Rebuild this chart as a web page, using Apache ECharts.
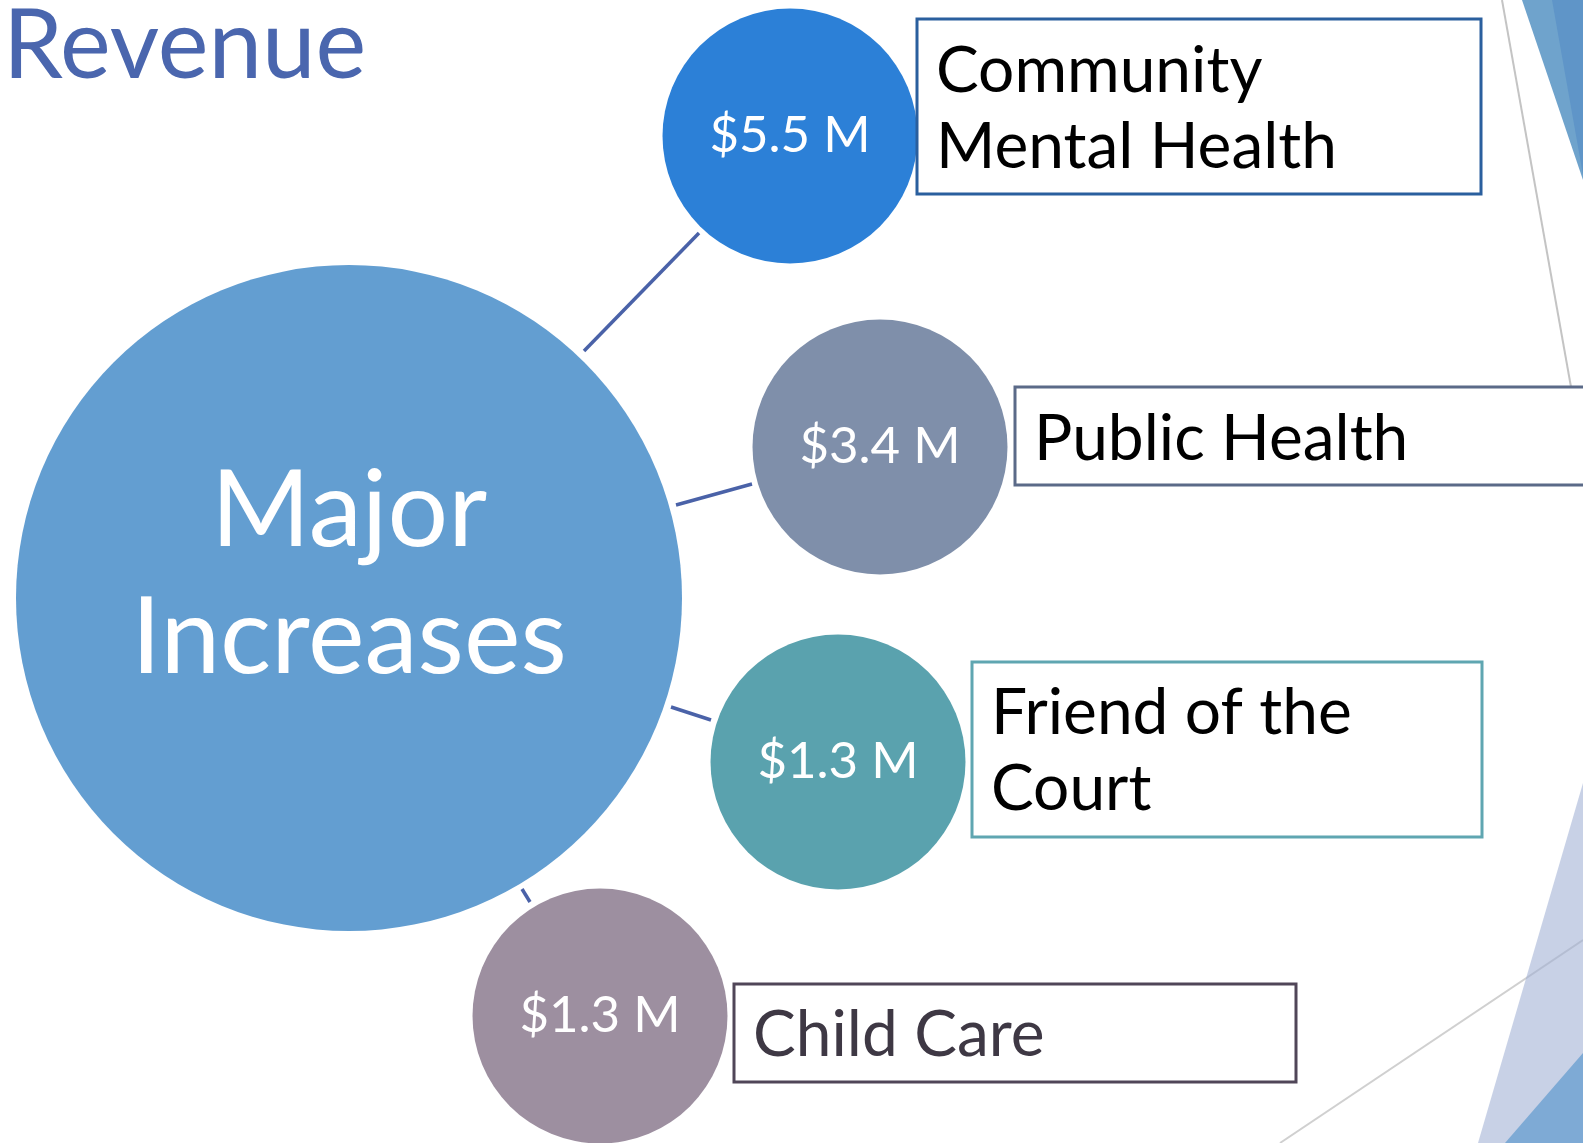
<!DOCTYPE html>
<html>
<head>
<meta charset="utf-8">
<script src="https://cdn.jsdelivr.net/npm/echarts@6/dist/echarts.min.js"></script>
<style>
  html, body { margin: 0; padding: 0; background: #fff; }
  #main { width: 1583px; height: 1143px; }
</style>
</head>
<body>
<div id="main"></div>
<script>
// values
const title = 'Revenue'
const hubLabel = 'Major\nIncreases'
const programs = ['Community\nMental Health', 'Public Health', 'Friend of the\nCourt', 'Child Care']
const amounts = [5.5, 3.4, 1.3, 1.3]

// layout (pixels, same as the page)
const hubPos = [349, 598]
const bubblePos = [[790, 136], [880, 447], [838, 762], [600, 1016]]
const boxRects = [[917, 19, 564, 175], [1015, 387, 600, 98], [972, 662, 510, 175], [734, 984, 562, 98]]
const boxTextY = [108, 438, 750, 1034]
const linkPts = [[[584, 351], [699, 233]], [[676, 505], [752, 484]], [[671, 707], [711, 720]], [[522, 889], [530, 902]]]

const bubbleColors = ['#2c80d7', '#7f8faa', '#5aa2ae', '#9d8fa0']
const boxColors = ['#2a5f9e', '#5b6a88', '#5fa6b1', '#504658']
const textColors = ['#000', '#000', '#000', '#3e3844']
const font = 'Lato, "Open Sans", sans-serif'

const chart = echarts.init(document.getElementById('main'))

chart.setOption({
  animation: false,
  backgroundColor: '#fff',
  grid: { left: 0, right: 0, top: 0, bottom: 0 },
  xAxis: { type: 'value', min: 0, max: 1583, show: false },
  yAxis: { type: 'value', min: 0, max: 1143, inverse: true, show: false },
  graphic: [
    // background decoration of the slide
    { type: 'line', z: 0, shape: { x1: 1502, y1: 0, x2: 1571, y2: 387 }, style: { stroke: '#c4c4c4', lineWidth: 2 } },
    { type: 'line', z: 0, shape: { x1: 1280, y1: 1143, x2: 1583, y2: 940 }, style: { stroke: '#d0d0d0', lineWidth: 2 } },
    { type: 'polygon', z: 0, shape: { points: [[1522, 0], [1583, 0], [1583, 180]] }, style: { fill: '#6fa3cc' } },
    { type: 'polygon', z: 0, shape: { points: [[1552, 0], [1583, 0], [1583, 175]] }, style: { fill: '#5f95c8' } },
    { type: 'polygon', z: 0, shape: { points: [[1583, 783], [1478, 1143], [1583, 1143]] }, style: { fill: 'rgba(160,176,212,0.58)' } },
    { type: 'polygon', z: 0, shape: { points: [[1583, 1053], [1505, 1143], [1583, 1143]] }, style: { fill: '#7eaad5' } },
    {
      type: 'text', left: 3, top: -1,
      style: { text: title, fill: '#4a66ae', font: '96px ' + font }
    }
  ],
  series: [
    {
      // connectors
      type: 'custom',
      z: 1,
      data: linkPts.map((p, i) => i),
      renderItem: function (params, api) {
        const p = linkPts[params.dataIndex]
        const a = api.coord(p[0])
        const b = api.coord(p[1])
        return {
          type: 'line',
          shape: { x1: a[0], y1: a[1], x2: b[0], y2: b[1] },
          style: { stroke: '#4a62a8', lineWidth: 3.5 }
        }
      }
    },
    {
      // hub circle
      type: 'scatter',
      z: 2,
      symbolSize: 666,
      itemStyle: { color: '#639ed1', opacity: 1 },
      label: {
        show: true, position: 'inside', formatter: hubLabel,
        color: '#fff', fontFamily: font, fontSize: 107, lineHeight: 127,
        offset: [0, -23]
      },
      data: [[hubPos[0], hubPos[1]]]
    },
    {
      // amount bubbles
      type: 'scatter',
      z: 3,
      symbolSize: 255,
      label: {
        show: true, position: 'inside',
        formatter: p => '$' + amounts[p.dataIndex].toFixed(1) + ' M',
        color: '#fff', fontFamily: font, fontSize: 51
      },
      data: amounts.map((v, i) => ({
        value: [bubblePos[i][0], bubblePos[i][1], v],
        itemStyle: { color: bubbleColors[i], opacity: 1 }
      }))
    },
    {
      // program boxes
      type: 'custom',
      z: 4,
      data: programs.map((p, i) => i),
      renderItem: function (params, api) {
        const i = params.dataIndex
        const r = boxRects[i]
        const tl = api.coord([r[0], r[1]])
        const br = api.coord([r[0] + r[2], r[1] + r[3]])
        return {
          type: 'group',
          children: [
            {
              type: 'rect',
              shape: { x: tl[0], y: tl[1], width: br[0] - tl[0], height: br[1] - tl[1] },
              style: { fill: '#fff', stroke: boxColors[i], lineWidth: 3 }
            },
            {
              type: 'text',
              style: {
                text: programs[i], x: tl[0] + 19, y: api.coord([0, boxTextY[i] + 1])[1],
                verticalAlign: 'middle', fill: textColors[i],
                font: '64px ' + font, lineHeight: 76
              }
            }
          ]
        }
      }
    }
  ]
})
</script>
</body>
</html>
